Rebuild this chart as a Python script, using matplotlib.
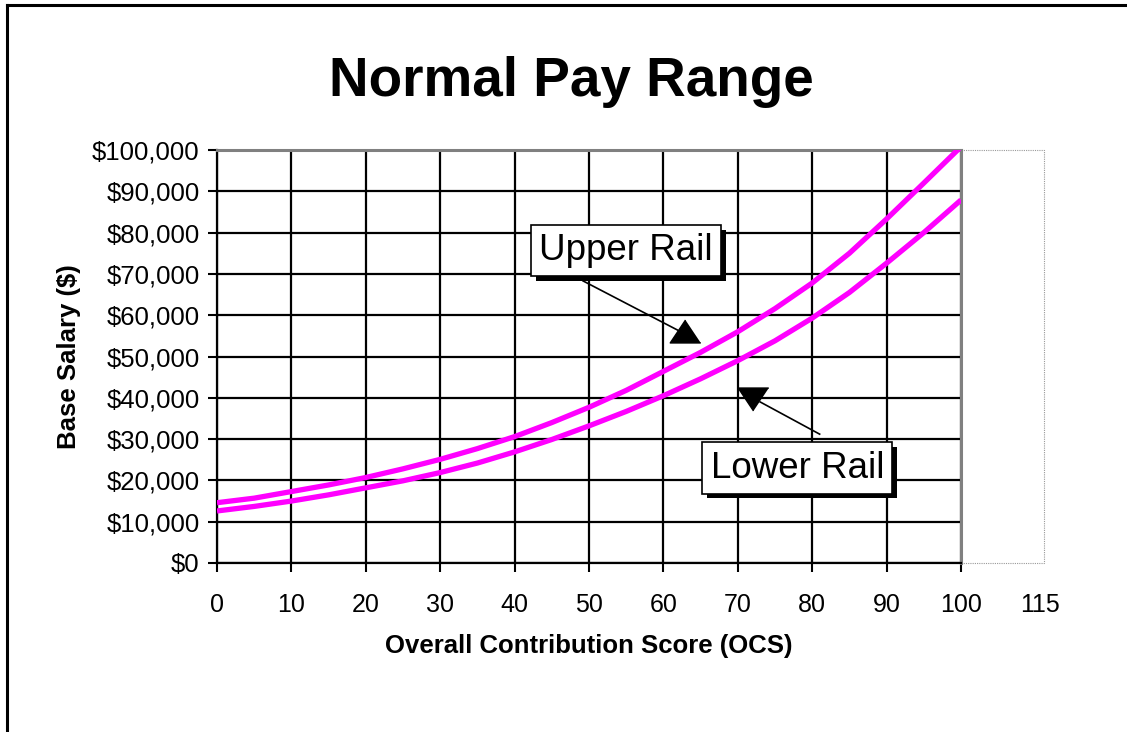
import matplotlib
matplotlib.use('Agg')
import matplotlib.pyplot as plt
from matplotlib.lines import Line2D
from matplotlib.patches import Rectangle
import matplotlib.patheffects as pe

plt.rcParams['font.family'] = ['Liberation Sans', 'DejaVu Sans']

# ---- data ----
ocs = [0, 5, 10, 15, 20, 25, 30, 35, 40, 45, 50, 55, 60, 65, 70, 75, 80, 85, 90, 95, 100]
upper_rail = [14600, 15700, 17300, 18900, 20700, 22800, 25100, 27700, 30600, 34000, 37700,
              41800, 46400, 51000, 56000, 61600, 67800, 75000, 83300, 92000, 100800]
lower_rail = [12600, 13700, 15000, 16500, 18200, 19900, 21900, 24200, 26900, 29900, 33200,
              36700, 40500, 44600, 49000, 53800, 59300, 65500, 72600, 80000, 87900]
x_ticks = [0, 10, 20, 30, 40, 50, 60, 70, 80, 90, 100]
y_ticks = [0, 10000, 20000, 30000, 40000, 50000, 60000, 70000, 80000, 90000, 100000]

W, H = 1127, 732
fig = plt.figure(figsize=(W / 100, H / 100), dpi=100)
ax = fig.add_axes([217 / W, 1 - 563 / H, (961 - 217) / W, (563 - 150) / H])

ax.plot(ocs, upper_rail, color='#FF00FF', lw=3.8, solid_capstyle='butt', zorder=3)
ax.plot(ocs, lower_rail, color='#FF00FF', lw=3.8, solid_capstyle='butt', zorder=3)

ax.set_xlim(0, 100)
ax.set_ylim(0, 100000)
ax.set_xticks(x_ticks)
ax.set_yticks(y_ticks)
ax.set_yticklabels([f'${v:,.0f}' for v in y_ticks])
ax.tick_params(direction='out', length=6.5, width=1.5)
ax.tick_params(axis='y', labelsize=18.5, pad=6)
ax.tick_params(axis='x', labelsize=18, pad=15)
ax.grid(True, color='black', lw=1.6)
ax.set_axisbelow(True)
for s in ['left', 'bottom']:
    ax.spines[s].set_linewidth(1.6)
    ax.spines[s].set_color('black')
for s in ['top', 'right']:
    ax.spines[s].set_linewidth(2.2)
    ax.spines[s].set_color('#808080')

# dotted outer plot-area frame and the stray "115" label
ax.add_patch(Rectangle((1.0, 0.0), 0.112, 1.0, transform=ax.transAxes, fill=False,
                       ec='#999999', lw=0.8, ls=(0, (1, 1)), clip_on=False))
ax.text(1.106, -0.072, '115', transform=ax.transAxes, ha='center', va='top', fontsize=18)

ax.set_xlabel('Overall Contribution Score (OCS)', fontsize=18.5, fontweight='bold', labelpad=12)
ax.set_ylabel('Base Salary ($)', fontsize=18.5, fontweight='bold', labelpad=8)
fig.text(571 / W, 1 - 82 / H, 'Normal Pay Range', ha='center', va='center',
         fontsize=39.5, fontweight='bold')

# callouts
shadow = [pe.withSimplePatchShadow(offset=(3.5, -3.5), shadow_rgbFace='black', alpha=1)]
for label, (tx, ty), (x0, y0), (x1, y1), (mx, my), mk in [
        ('Upper Rail', (55.0, 75700), (49.2, 68300), (61.9, 56400), (62.9, 56200),
         [(0, 0.75), (-1, -0.75), (1, -0.75)]),
        ('Lower Rail', (78.0, 23000), (81.0, 31200), (73.0, 39000), (72.0, 39800),
         [(0, -0.75), (-1, 0.75), (1, 0.75)])]:
    ax.plot([x0, x1], [y0, y1], color='black', lw=1.2, zorder=4)
    ax.plot([mx], [my], marker=mk, ms=22, color='black', zorder=4, clip_on=False)
    t = ax.text(tx, ty, label, ha='center', va='center', fontsize=26.5, zorder=5,
                bbox=dict(boxstyle='square,pad=0.22', fc='white', ec='black', lw=1.2))
    t.get_bbox_patch().set_path_effects(shadow)

# outer frame (left and top edges only visible)
fig.add_artist(Line2D([6.5 / W, 6.5 / W], [0, 1 - 4.5 / H], color='black', lw=2.2))
fig.add_artist(Line2D([6.5 / W, 1], [1 - 4.5 / H, 1 - 4.5 / H], color='black', lw=2.2))

fig.savefig('out.png', dpi=100, facecolor='white')
